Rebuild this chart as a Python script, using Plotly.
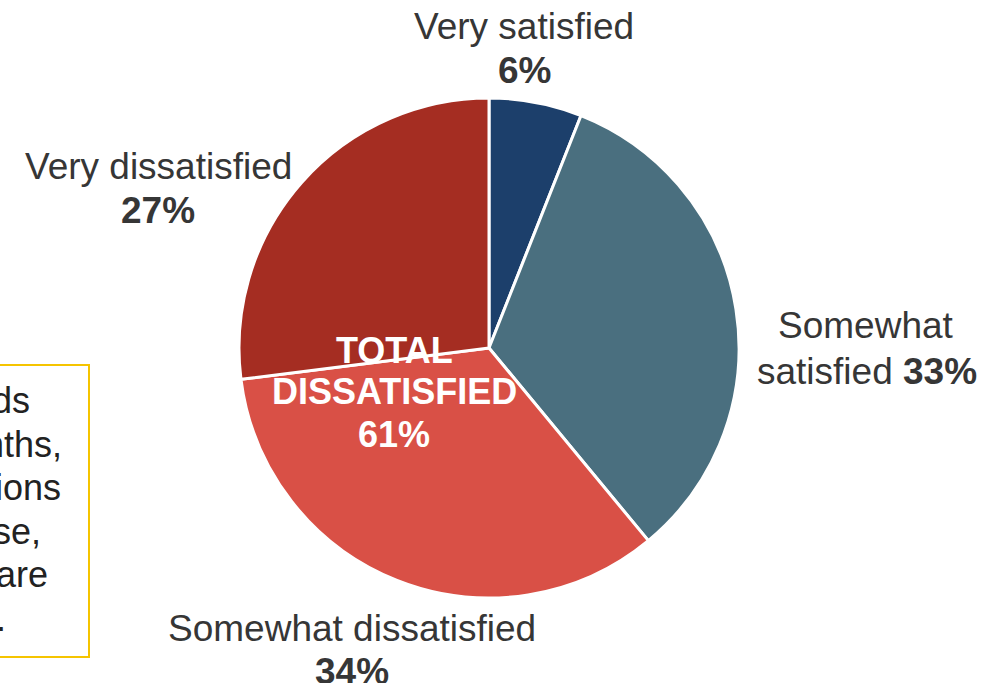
import plotly.graph_objects as go

W, H = 1005, 683

# Data
categories = ["Very satisfied", "Somewhat satisfied", "Somewhat dissatisfied", "Very dissatisfied"]
values = [6, 33, 34, 27]
colors = ["#1C3F6B", "#4A6F7F", "#D95046", "#A52D22"]
total_lines = ["TOTAL", "DISSATISFIED", "61%"]
box_lines = ["ds", "nths,", "ions", "se,", "are", "r."]

FONT = "Liberation Sans, Arial, sans-serif"
TXT = "#363636"

def px(x):
    return x / W

def py(y):
    return 1 - y / H

cx, cy, r = 489, 348, 250

fig = go.Figure(go.Pie(
    labels=categories,
    values=values,
    sort=False,
    direction="clockwise",
    rotation=0,
    marker=dict(colors=colors, line=dict(color="white", width=3)),
    textinfo="none",
    hoverinfo="label+percent",
    showlegend=False,
    domain=dict(x=[px(cx - r), px(cx + r)], y=[py(cy + r), py(cy - r)]),
))

annotations = []

def line(text, x, baseline, size=37, color=TXT, xanchor="center"):
    annotations.append(dict(
        text=text, x=px(x), y=py(baseline - 0.35 * size), xref="paper", yref="paper",
        xanchor=xanchor, yanchor="middle", showarrow=False, align="center",
        font=dict(family=FONT, size=size, color=color),
    ))

# Outside slice labels
line("Very satisfied", 524, 39)
line(f"<b>{values[0]}%</b>", 524, 83)
line("Somewhat", 866, 338)
line(f"satisfied <b>{values[1]}%</b>", 867, 384)
line("Somewhat dissatisfied", 352, 641)
line(f"<b>{values[2]}%</b>", 352, 684)
line("Very dissatisfied", 158, 179)
line(f"<b>{values[3]}%</b>", 158, 223)

# Centre label
for t, b in zip(total_lines, [363, 404, 447]):
    line(f"<b>{t}</b>", 394, b, size=36, color="white")

# Partially visible text box on the left
baselines = [413, 457, 500, 544, 587, 631]
ends = [32, 64, 63, 43, 50, 8]
for t, b, e in zip(box_lines, baselines, ends):
    line(t, e, b, size=36, color="#222222", xanchor="right")

fig.update_layout(
    width=W, height=H,
    margin=dict(l=0, r=0, t=0, b=0),
    paper_bgcolor="white", plot_bgcolor="white",
    annotations=annotations,
    shapes=[dict(type="rect", xref="paper", yref="paper",
                 x0=px(-200), x1=px(89), y0=py(657), y1=py(365),
                 line=dict(color="#F5C400", width=2), fillcolor="rgba(0,0,0,0)")],
)

fig.write_html("out.html", config={"displayModeBar": False},
               post_script="document.body.style.margin='0';")
